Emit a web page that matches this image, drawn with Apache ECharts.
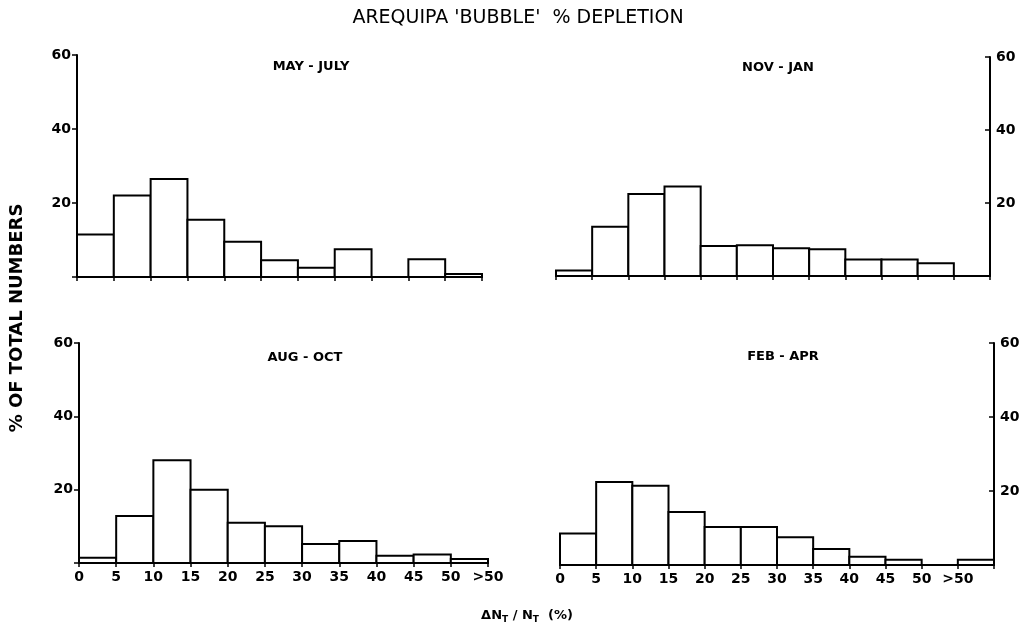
<!DOCTYPE html>
<html>
<head>
<meta charset="utf-8">
<script src="https://cdn.jsdelivr.net/npm/echarts@6/dist/echarts.min.js"></script>
<style>html,body{margin:0;padding:0;background:#fff}#c{width:1036px;height:631px}</style>
</head>
<body>
<div id="c"></div>
<script>
// Tick labels at bin edges
const binLabels = ['0','5','10','15','20','25','30','35','40','45','50','>50'];
// % of total numbers per bin
const mayJul = [11.5, 22, 26.5, 15.5, 9.5, 4.5, 2.5, 7.5, 0, 4.8, 0.8];
const novJan = [1.5, 13.5, 22.5, 24.5, 8.2, 8.4, 7.6, 7.3, 4.5, 4.5, 3.5, 0];
const augOct = [1.4, 12.8, 28, 20, 11, 10, 5.2, 6, 2, 2.3, 1.1];
const febApr = [8.5, 22.4, 21.4, 14.3, 10.3, 10.3, 7.5, 4.3, 2.2, 1.4, 0, 1.4];

const panels = [
  {name: 'MAY - JULY', data: mayJul, grid: {left: 77, right: 554, top: 55, bottom: 354}, side: 'left', showX: false, tx: 306, ty: 55},
  {name: 'NOV - JAN', data: novJan, grid: {left: 556, right: 46, top: 57, bottom: 355}, side: 'right', showX: false, tx: 773, ty: 56},
  {name: 'AUG - OCT', data: augOct, grid: {left: 79, right: 548, top: 343, bottom: 68}, side: 'left', showX: true, tx: 300, ty: 346},
  {name: 'FEB - APR', data: febApr, grid: {left: 560, right: 42, top: 343, bottom: 66}, side: 'right', showX: true, tx: 778, ty: 345}
];

const font = 'DejaVu Sans';
const grids = [], xAxes = [], yAxes = [], series = [], titles = [];

titles.push({
  text: "AREQUIPA 'BUBBLE'  % DEPLETION", left: 'center', top: 4,
  textStyle: {fontFamily: font, fontSize: 19, fontWeight: 'normal', color: '#000'}
});

panels.forEach((p, k) => {
  grids.push(p.grid);
  const n = p.data.length;
  xAxes.push({
    type: 'value', gridIndex: k, min: 0, max: n, interval: 1,
    axisLine: {show: true, onZero: false, lineStyle: {color: '#000', width: 2}},
    axisTick: {show: true, inside: false, length: 4, lineStyle: {color: '#000', width: 1.5}},
    splitLine: {show: false},
    axisLabel: {
      show: p.showX, color: '#000', fontFamily: font, fontWeight: 'bold', fontSize: 14, margin: 7,
      showMinLabel: true, showMaxLabel: true,
      formatter: v => (binLabels[v] !== undefined ? binLabels[v] : '')
    }
  });
  yAxes.push({
    type: 'value', gridIndex: k, min: 0, max: 60, interval: 20, position: p.side,
    axisLine: {show: true, onZero: false, lineStyle: {color: '#000', width: 2}},
    axisTick: {show: true, inside: p.side === 'right', length: 5, lineStyle: {color: '#000', width: 1.5}},
    splitLine: {show: false},
    axisLabel: {
      color: '#000', fontFamily: font, fontWeight: 'bold', fontSize: 14, margin: 6,
      formatter: v => (v === 0 ? '' : String(v))
    }
  });
  series.push({
    type: 'custom', xAxisIndex: k, yAxisIndex: k,
    data: p.data.map((v, i) => [i, v]),
    renderItem: (params, api) => {
      const i = api.value(0), v = api.value(1);
      if (!v) return null;
      const p0 = api.coord([i, 0]);
      const p1 = api.coord([i + 1, v]);
      return {
        type: 'rect',
        shape: {x: p0[0], y: p1[1], width: p1[0] - p0[0], height: p0[1] - p1[1]},
        style: {fill: '#fff', stroke: '#000', lineWidth: 2}
      };
    }
  });
  titles.push({
    text: p.name, left: p.tx, top: p.ty, textAlign: 'center',
    textStyle: {fontFamily: font, fontSize: 13, fontWeight: 'bold', color: '#000'}
  });
});

const chart = echarts.init(document.getElementById('c'));
chart.setOption({
  animation: false,
  backgroundColor: '#fff',
  title: titles,
  grid: grids,
  xAxis: xAxes,
  yAxis: yAxes,
  series: series,
  graphic: [
    {
      type: 'text', x: 8, y: 318, rotation: Math.PI / 2,
      style: {text: '% OF TOTAL NUMBERS', fontFamily: font, fontSize: 18, fontWeight: 'bold', fill: '#000', align: 'center', verticalAlign: 'top'}
    },
    {
      type: 'text',
      style: {
        text: 'ΔN{s|T} / N{s|T}  (%)', x: 527, y: 616, align: 'center', verticalAlign: 'middle',
        fontFamily: font, fontSize: 13, fontWeight: 'bold', fill: '#000',
        rich: {s: {fontSize: 9, fontWeight: 'bold', fontFamily: font, padding: [7, 0, 0, 0]}}
      }
    }
  ]
});
</script>
</body>
</html>
